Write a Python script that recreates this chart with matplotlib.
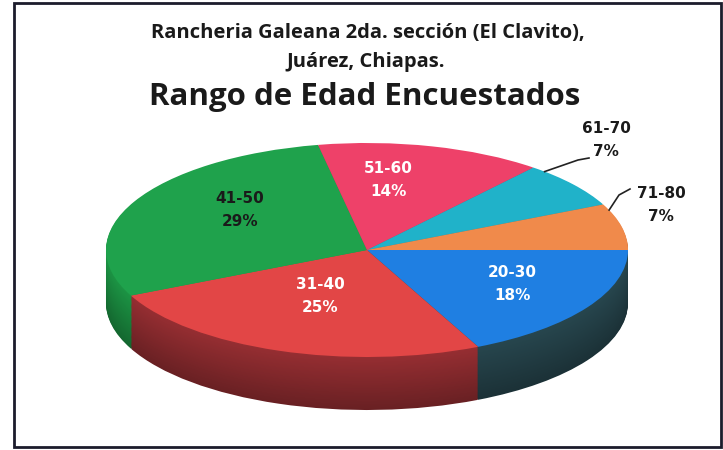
import numpy as np
import matplotlib.pyplot as plt
import matplotlib.colors as mcolors

categories = ["20-30", "31-40", "41-50", "51-60", "61-70", "71-80"]
values = [18, 25, 29, 14, 7, 7]
pct_labels = ["18%", "25%", "29%", "14%", "7%", "7%"]

top_colors = ["#1f7fe2", "#e24646", "#1fa24c", "#ee4169", "#20b2c9", "#f08a4b"]
side_colors = ["#27464e", "#962e32", "#1c9444", "#b83050", "#178a9c", "#b8602e"]
label_colors = ["white", "white", "#1a1a1a", "white", "#1a1a1a", "#1a1a1a"]

W, H = 723, 450
fig = plt.figure(figsize=(7.23, 4.5), dpi=100)
ax = fig.add_axes([0, 0, 1, 1])

CX, CY, RX, RY, DEPTH = 367, 250, 261, 107, 53

# side walls: stacked layers of the pie, offset downward
nlayers = 60
for i in range(nlayers, 0, -1):
    off = DEPTH / RY * i / nlayers
    f = 0.70 + 0.30 * (1 - i / nlayers)
    cols = [tuple(np.clip(np.array(mcolors.to_rgb(c)) * f, 0, 1)) for c in side_colors]
    ax.pie(values, colors=cols, startangle=0, counterclock=False,
           center=(0, -off), radius=1, wedgeprops=dict(linewidth=0))

# top face
wedges, _ = ax.pie(values, colors=top_colors, startangle=0, counterclock=False,
                   center=(0, 0), radius=1, wedgeprops=dict(linewidth=0))

ax.set_aspect('auto')
ax.set_xlim(-CX / RX, (W - CX) / RX)
ax.set_ylim((CY - H) / RY, CY / RY)
ax.axis('off')


def fx(px):
    return px / W


def fy(py):
    return 1 - py / H


title_font = dict(family=["Open Sans", "DejaVu Sans"], fontweight="bold")
label_font = dict(family=["DejaVu Sans"], fontweight="bold")

# titles
fig.text(fx(368), fy(33), "Rancheria Galeana 2da. sección (El Clavito),",
         ha="center", va="center", fontsize=14.5, color="#1a1a1a", **title_font)
fig.text(fx(366), fy(62), "Juárez, Chiapas.", ha="center", va="center",
         fontsize=14.5, color="#1a1a1a", **title_font)
fig.text(fx(365), fy(97), "Rango de Edad Encuestados", ha="center", va="center",
         fontsize=22.5, color="#1a1a1a", **title_font)

# label positions (pixels)
label_pos = [(512, 284), (320, 296), (240, 210), (388, 180), (606, 140), (661, 205)]
for cat, pct, col, (lx, ly) in zip(categories, pct_labels, label_colors, label_pos):
    fig.text(fx(lx), fy(ly), f"{cat}\n{pct}", ha="center", va="center",
             fontsize=11, color=col, linespacing=1.6, **label_font)


# leader lines for outside labels
def rim_point(idx, along=0.87):
    cum = np.cumsum([0] + values)
    ang = -(cum[idx] + values[idx] * (1 - along)) / sum(values) * 360
    t = np.deg2rad(ang)
    return np.cos(t), np.sin(t)


for idx, (ex, ey), (tx, ty) in [(4, (578, 160), (589, 158)),
                                (5, (619, 195), (630, 189))]:
    x0, y0 = rim_point(idx)
    xs = [x0, (ex - CX) / RX, (tx - CX) / RX]
    ys = [y0, (CY - ey) / RY, (CY - ty) / RY]
    ax.plot(xs, ys, color="#222222", lw=1.2)

# frame border
fig.add_artist(plt.Rectangle((fx(14), fy(447)), fx(721) - fx(14), fy(3) - fy(447),
                             fill=False, edgecolor="#1c1c2c", lw=2,
                             transform=fig.transFigure))

fig.savefig("out.png", dpi=100, facecolor="white")
